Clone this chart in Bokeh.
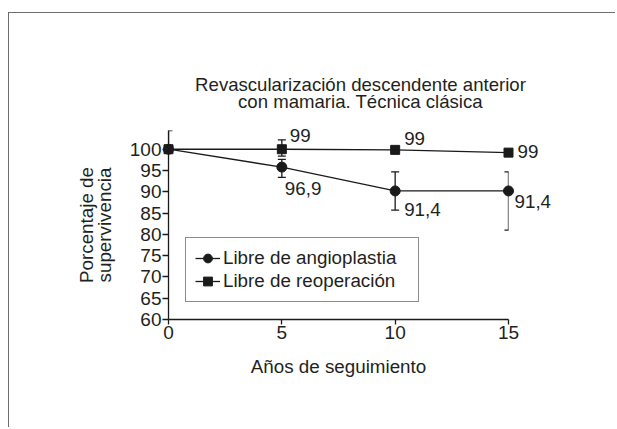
from bokeh.plotting import figure
from bokeh.models import (ColumnDataSource, Whisker, TeeHead,
                          Legend, LegendItem, FixedTicker)
from bokeh.core.properties import value
from bokeh.embed import file_html
from bokeh.resources import INLINE

# ---------------- data ----------------
years = [0, 5, 10, 15]

angio = [100, 95.8, 90.2, 90.2]
angio_lower = [100, 93.4, 85.7, 81.0]
angio_upper = [104.4, 97.6, 94.7, 94.7]
angio_text = ["", "96,9", "91,4", "91,4"]

reop = [100, 100, 99.85, 99.2]
reop_lower = [100, 98.4, 99.85, 99.2]
reop_upper = [100, 102.2, 99.85, 99.2]
reop_text = ["", "99", "99", "99"]

y_ticks = [60, 65, 70, 75, 80, 85, 90, 95, 100]
x_ticks = [0, 5, 10, 15]

title_lines = ["Revascularización descendente anterior", "con mamaria. Técnica clásica"]
x_title = "Años de seguimiento"
y_title = "Porcentaje de\nsupervivencia"
series_names = ["Libre de angioplastia", "Libre de reoperación"]

# label offsets (screen px, +x right, +y down) — styling, not data
angio_dx = [0, 3, 9, 6]
angio_dy = [0, 21, 18.5, 11]
reop_dx = [0, 8, 9, 9]
reop_dy = [0, -14, -11.5, -1.5]

# title placement (data coords of the centred title block baselines)
title_x = [8.47, 8.47]
title_y = [115.2, 111.18]

FONT = "Liberation Sans"
INK = "#1a1a1a"
TXT = "#231f20"
FS = "18.8px"

p = figure(width=607, height=415, output_backend="svg", toolbar_location=None,
           x_range=(0, 15), y_range=(60, 104.4),
           min_border_left=159, min_border_right=108,
           min_border_top=117, min_border_bottom=109)
p.styles = {"margin-top": "12px", "margin-left": "8px",
            "border-top": "1.5px solid #6e6e6e",
            "border-left": "1.5px solid #6e6e6e"}
p.outline_line_color = None
p.grid.visible = False
p.background_fill_color = "white"

for ax in (p.xaxis[0], p.yaxis[0]):
    ax.axis_line_color = INK
    ax.axis_line_width = 1.3
    ax.major_tick_line_color = INK
    ax.major_tick_line_width = 1.3
    ax.minor_tick_line_color = None
    ax.major_tick_in = 0
    ax.major_label_text_font = FONT
    ax.major_label_text_font_size = "19px"
    ax.major_label_text_color = TXT
    ax.axis_label_text_font = FONT
    ax.axis_label_text_font_size = FS
    ax.axis_label_text_font_style = "normal"
    ax.axis_label_text_color = TXT

p.xaxis.ticker = FixedTicker(ticks=x_ticks)
p.yaxis.ticker = FixedTicker(ticks=y_ticks)
p.xaxis.major_tick_out = 5
p.yaxis.major_tick_out = 6
p.xaxis.major_label_standoff = 1
p.yaxis.major_label_standoff = 1
p.xaxis.axis_label = x_title
p.yaxis.axis_label = y_title
p.xaxis.axis_label_standoff = 14
p.yaxis.axis_label_standoff = 12
p.yaxis.axis_label_text_line_height = 0.83

src_a = ColumnDataSource(dict(x=years, y=angio, lo=angio_lower, up=angio_upper,
                              t=angio_text, dx=angio_dx, dy=angio_dy))
src_r = ColumnDataSource(dict(x=years, y=reop, lo=reop_lower, up=reop_upper,
                              t=reop_text, dx=reop_dx, dy=reop_dy))

for src in (src_a, src_r):
    w = Whisker(source=src, base="x", lower="lo", upper="up", dimension="height",
                line_color=INK, line_width=1.3, level="overlay",
                upper_head=TeeHead(size=8, line_color=INK, line_width=1.3),
                lower_head=TeeHead(size=8, line_color=INK, line_width=1.3))
    p.add_layout(w)

la = p.line("x", "y", source=src_a, line_color=INK, line_width=1.3, level="overlay")
lr = p.line("x", "y", source=src_r, line_color=INK, line_width=1.3, level="overlay")
ma = p.scatter("x", "y", source=src_a, marker="circle", size=10, color=INK, level="overlay")
mr = p.scatter("x", "y", source=src_r, marker="square", size=9, color=INK, level="overlay")

for src in (src_a, src_r):
    p.text("x", "y", text="t", source=src, x_offset="dx", y_offset="dy",
           text_font=value(FONT), text_font_size=value(FS), text_color=TXT,
           text_align="left", text_baseline="middle", level="overlay")

title_src = ColumnDataSource(dict(x=title_x, y=title_y, t=title_lines))
p.text("x", "y", text="t", source=title_src,
       text_font=value(FONT), text_font_size=value("18.6px"), text_color=TXT,
       text_align="center", text_baseline="alphabetic", level="overlay")

legend = Legend(items=[LegendItem(label=series_names[0], renderers=[la, ma]),
                       LegendItem(label=series_names[1], renderers=[lr, mr])],
                location=(17, 17.5), orientation="vertical",
                border_line_color=INK, border_line_width=1.2,
                background_fill_color="white", background_fill_alpha=1,
                label_text_font=FONT, label_text_font_size=FS, label_text_color=TXT,
                label_text_line_height=1.0,
                glyph_width=25, glyph_height=22, label_height=22, label_width=186,
                label_standoff=3, padding=9, spacing=1, margin=0)
p.add_layout(legend, "center")

open("out.html", "w").write(file_html(p, INLINE))
